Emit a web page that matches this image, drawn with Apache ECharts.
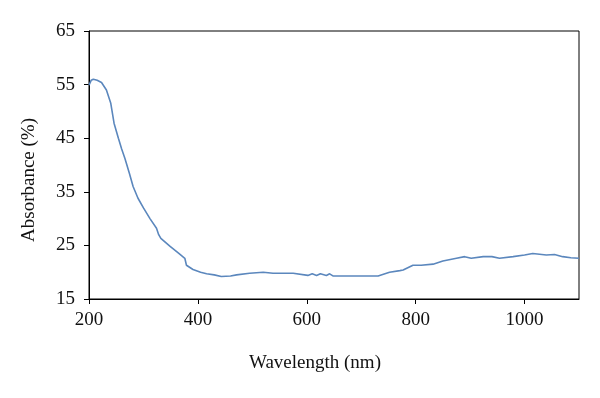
<!DOCTYPE html>
<html>
<head>
<meta charset="utf-8">
<script src="https://cdn.jsdelivr.net/npm/echarts@6/dist/echarts.min.js"></script>
<style>
  html, body { margin: 0; padding: 0; background: #fff; }
  #chart { width: 600px; height: 398px; }
</style>
</head>
<body>
<div id="chart"></div>
<script>
// absorbance spectrum
const wavelength = [200, 204, 208, 215, 223, 232, 240, 246, 254, 260, 266, 274, 281, 290, 300, 312, 324, 328, 332, 349,
  365, 376, 379, 391, 405, 416, 430, 443, 460, 471, 495, 520, 538, 560, 575, 602, 610, 618, 625, 636,
  642, 648, 700, 731, 752, 771, 777, 795, 810, 832, 850, 875, 890, 902, 924, 940, 954, 979, 1000, 1015,
  1040, 1055, 1070, 1085, 1100]
const absorbance = [54.9, 55.8, 56.0, 55.8, 55.4, 54.0, 51.5, 47.8, 45.0, 43.0, 41.2, 38.5, 36.0, 33.8, 32.0, 30.0, 28.2, 27.0, 26.3, 24.8,
  23.5, 22.6, 21.3, 20.5, 20.0, 19.7, 19.5, 19.2, 19.3, 19.5, 19.8, 20.0, 19.8, 19.8, 19.8, 19.4, 19.7, 19.4, 19.7, 19.4,
  19.7, 19.3, 19.3, 19.3, 20.0, 20.3, 20.4, 21.3, 21.3, 21.5, 22.1, 22.6, 22.9, 22.6, 22.9, 22.9, 22.6, 22.9, 23.2, 23.5,
  23.2, 23.3, 22.9, 22.7, 22.6]
const xTicks = [200, 400, 600, 800, 1000]
const yTicks = [15, 25, 35, 45, 55, 65]

const font = '"Liberation Serif", "DejaVu Serif", serif'
const chart = echarts.init(document.getElementById('chart'), null, { renderer: 'canvas' })

chart.setOption({
  animation: false,
  grid: {
    left: 89,
    right: 21,
    top: 31,
    bottom: 99,
    show: true,
    borderColor: '#000',
    borderWidth: 1,
  },
  xAxis: {
    type: 'value',
    min: 200,
    max: 1100,
    interval: 200,
    name: 'Wavelength (nm)',
    nameLocation: 'middle',
    nameGap: 55,
    nameTextStyle: { fontFamily: font, fontSize: 19, color: '#111', padding: [0, 38, 0, 0] },
    axisLine: { lineStyle: { color: '#000', width: 1 } },
    axisTick: { show: true, length: 5, inside: false, lineStyle: { color: '#000' }, customValues: xTicks },
    axisLabel: { fontFamily: font, fontSize: 19, color: '#111', margin: 12, customValues: xTicks, formatter: v => String(v) },
    splitLine: { show: false },
  },
  yAxis: {
    type: 'value',
    min: 15,
    max: 65,
    interval: 10,
    name: 'Absorbance (%)',
    nameLocation: 'middle',
    nameGap: 50,
    nameTextStyle: { fontFamily: font, fontSize: 19, color: '#111', padding: [0, 30, 0, 0] },
    axisLine: { show: true, lineStyle: { color: '#000', width: 1 } },
    axisTick: { show: true, length: 5, inside: false, lineStyle: { color: '#000' }, customValues: yTicks },
    axisLabel: { fontFamily: font, fontSize: 19, color: '#111', margin: 14, customValues: yTicks },
    splitLine: { show: false },
  },
  series: [
    {
      type: 'line',
      data: wavelength.map((w, i) => [w, absorbance[i]]),
      showSymbol: false,
      smooth: false,
      lineStyle: { color: '#5b87bd', width: 1.6 },
    },
  ],
})
</script>
</body>
</html>
